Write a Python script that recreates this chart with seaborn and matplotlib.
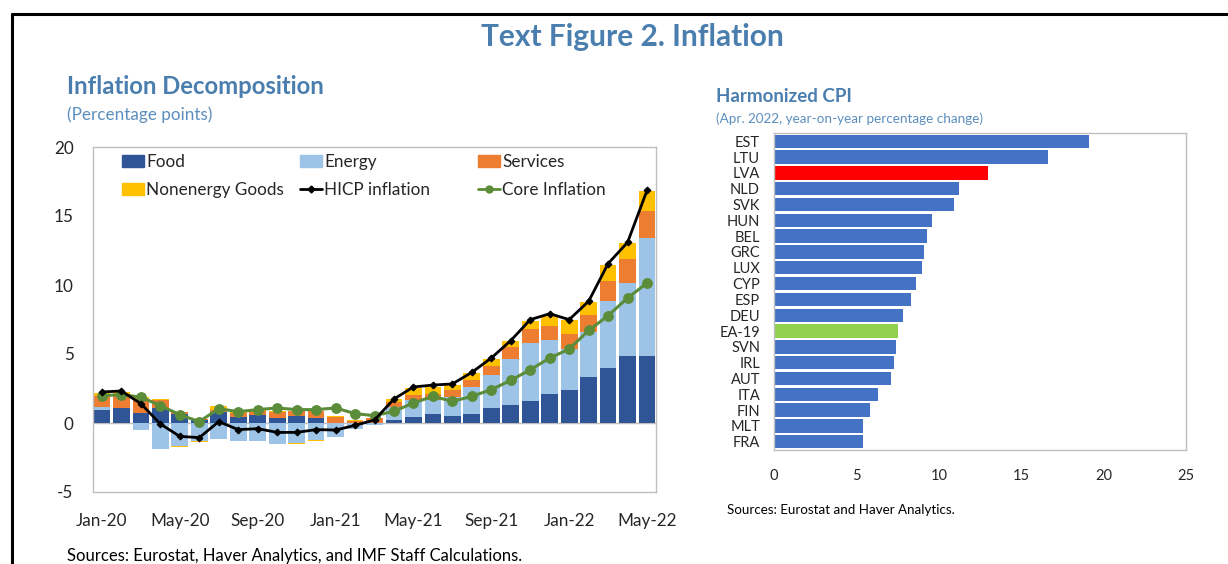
import numpy as np
import matplotlib
matplotlib.use('Agg')
import matplotlib.pyplot as plt
import seaborn as sns
from matplotlib.lines import Line2D
from matplotlib.patches import Patch

#%% Données

# décomposition de l'inflation, Jan-20 à May-22 (points de pourcentage)
tick_labels = ['Jan-20', 'May-20', 'Sep-20', 'Jan-21', 'May-21', 'Sep-21', 'Jan-22', 'May-22']
food = [0.92, 1.06, 0.72, 1.06, 0.68, 0.24, 0.77, 0.41, 0.56, 0.36, 0.48, 0.36, 0.00, 0.00, 0.00,
        0.19, 0.41, 0.68, 0.48, 0.68, 1.11, 1.28, 1.62, 2.10, 2.37, 3.33, 3.96, 4.83, 4.88]
energy = [0.24, 0.05, -0.48, -1.86, -1.69, -1.28, -1.16, -1.30, -1.33, -1.52, -1.45, -1.21, -1.00, -0.42, -0.15,
          1.00, 1.28, 0.97, 1.40, 1.93, 2.39, 3.38, 4.18, 3.89, 3.02, 3.24, 4.90, 5.31, 8.50]
services = [0.82, 0.87, 0.97, 0.58, 0.12, 0.05, 0.15, 0.31, 0.29, 0.43, 0.36, 0.48, 0.40, 0.15, 0.38,
            0.34, 0.36, 0.48, 0.48, 0.48, 0.60, 0.82, 1.04, 1.06, 1.06, 1.23, 1.45, 1.76, 1.96]
goods = [0.19, 0.24, 0.19, 0.10, -0.07, -0.07, 0.34, 0.12, 0.07, 0.07, -0.10, -0.12, 0.10, 0.10, 0.00,
         0.19, 0.48, 0.48, 0.41, 0.53, 0.56, 0.48, 0.58, 0.72, 0.99, 0.97, 1.16, 1.14, 1.45]
hicp = [2.25, 2.32, 1.40, -0.07, -0.97, -1.06, 0.10, -0.48, -0.41, -0.68, -0.68, -0.48, -0.51, -0.17, 0.22,
        1.74, 2.61, 2.75, 2.83, 3.67, 4.71, 5.97, 7.49, 7.92, 7.49, 8.82, 11.55, 13.09, 16.86]
core = [1.98, 2.05, 1.88, 1.26, 0.60, 0.10, 1.04, 0.82, 0.97, 1.09, 0.97, 0.97, 1.09, 0.68, 0.53,
        0.85, 1.45, 1.93, 1.57, 1.93, 2.42, 3.09, 3.86, 4.71, 5.36, 6.71, 7.78, 9.06, 10.14]

# HICP avril 2022
countries = ['EST', 'LTU', 'LVA', 'NLD', 'SVK', 'HUN', 'BEL', 'GRC', 'LUX', 'CYP',
             'ESP', 'DEU', 'EA-19', 'SVN', 'IRL', 'AUT', 'ITA', 'FIN', 'MLT', 'FRA']
hcpi_apr22 = [19.1, 16.6, 13.0, 11.2, 10.9, 9.6, 9.3, 9.1, 9.0, 8.6,
              8.3, 7.8, 7.5, 7.4, 7.3, 7.1, 6.3, 5.8, 5.4, 5.4]

#%% Style

sns.set_theme(style='white')
plt.rcParams['font.family'] = ['Lato', 'DejaVu Sans']
plt.rcParams['axes.unicode_minus'] = False

blue_title = '#4A7EAE'
c_food, c_energy, c_serv, c_goods = '#2F5597', '#9DC3E6', '#ED7D31', '#FFC000'
c_core = '#5B8C3A'
grey = '#BFBFBF'

W, H = 1228, 564
fig = plt.figure(figsize=(W / 100, H / 100), dpi=100)

def fx(x):
    return x / W

def fy(y):
    return 1 - y / H

#%% Graphique de gauche : décomposition

ax1 = fig.add_axes([fx(93), fy(492), fx(656) - fx(93), fy(147) - fy(492)])
x = np.arange(len(food))
pos_b = np.zeros(len(x))
neg_b = np.zeros(len(x))
for vals, col in [(food, c_food), (energy, c_energy), (services, c_serv), (goods, c_goods)]:
    v = np.array(vals)
    b = np.where(v >= 0, pos_b, neg_b)
    ax1.bar(x, v, 0.86, bottom=b, color=col, linewidth=0, zorder=2)
    pos_b += np.clip(v, 0, None)
    neg_b += np.clip(v, None, 0)

ax1.axhline(0, color=grey, lw=1, zorder=1)
sns.lineplot(x=x, y=core, ax=ax1, color=c_core, lw=2.2, marker='o', markersize=7,
             markeredgecolor=c_core, zorder=3)
sns.lineplot(x=x, y=hicp, ax=ax1, color='black', lw=2, marker='D', markersize=3.5,
             markeredgecolor='black', zorder=4)

ax1.set_xlim(-0.46, 28.46)
ax1.set_ylim(-5, 20)
ax1.set_yticks([-5, 0, 5, 10, 15, 20])
ax1.set_xticks(np.arange(0, 29, 4))
ax1.set_xticklabels(tick_labels)
ax1.tick_params(axis='y', direction='in', length=4, color=grey, labelsize=12.3, pad=14)
ax1.tick_params(axis='x', length=0, labelsize=12.3, pad=15)
for s in ax1.spines.values():
    s.set_color(grey)
    s.set_linewidth(1)

# légende en trois colonnes placées à la main
leg_cols = [
    ([Patch(color=c_food), Patch(color=c_goods)], ['Food', 'Nonenergy Goods'], 122),
    ([Patch(color=c_energy), Line2D([], [], color='black', lw=2, marker='D', markersize=3.5)],
     ['Energy', 'HICP inflation'], 300),
    ([Patch(color=c_serv), Line2D([], [], color=c_core, lw=2, marker='o', markersize=5)],
     ['Services', 'Core Inflation'], 478),
]
for hs, ls, x0 in leg_cols:
    leg = ax1.legend(hs, ls, loc='upper left', bbox_to_anchor=(fx(x0), fy(154)),
                     bbox_transform=fig.transFigure, frameon=False, fontsize=12.3,
                     borderpad=0, borderaxespad=0, handlelength=1.3, handletextpad=0.1,
                     labelspacing=0.68)
    ax1.add_artist(leg)
ax1.legend_ = None  # sinon la dernière légende est dessinée deux fois

#%% Graphique de droite : HICP par pays

ax2 = fig.add_axes([fx(774), fy(450), fx(1186) - fx(774), fy(133) - fy(450)])
bar_cols = ['#FF0000' if c == 'LVA' else '#92D050' if c == 'EA-19' else '#4472C4' for c in countries]
sns.barplot(x=hcpi_apr22, y=countries, hue=countries, palette=bar_cols, legend=False,
            orient='h', width=0.85, saturation=1, ax=ax2, linewidth=0)
ax2.set_xlim(0, 25)
ax2.set_ylim(19.52, -0.52)
ax2.set_xticks([0, 5, 10, 15, 20, 25])
ax2.tick_params(axis='x', direction='in', length=4, color=grey, labelsize=10.5, pad=14)
ax2.tick_params(axis='y', length=0, labelsize=10.5, pad=10)
ax2.set_xlabel('')
ax2.set_ylabel('')
for s in ax2.spines.values():
    s.set_color(grey)
    s.set_linewidth(1)

#%% Titres et sources

fig.text(fx(632), fy(37), 'Text Figure 2. Inflation', ha='center', va='center',
         fontsize=21.5, fontweight='bold', color=blue_title)
fig.text(fx(67), fy(87), 'Inflation Decomposition', ha='left', va='center',
         fontsize=17.2, fontweight='bold', color=blue_title)
fig.text(fx(67), fy(115), '(Percentage points)', ha='left', va='center',
         fontsize=12.3, color='#5B8EBE')
fig.text(fx(716), fy(96), 'Harmonized CPI', ha='left', va='center',
         fontsize=13.5, fontweight='bold', color=blue_title)
fig.text(fx(716), fy(119), '(Apr. 2022, year-on-year percentage change)', ha='left', va='center',
         fontsize=9.7, color='#5B8EBE')
fig.text(fx(67), fy(556), 'Sources: Eurostat, Haver Analytics, and IMF Staff Calculations.',
         ha='left', va='center', fontsize=12, color='black')
fig.text(fx(727), fy(510), 'Sources: Eurostat and Haver Analytics.', ha='left', va='center',
         fontsize=9.6, color='black')

# cadre noir
fig.add_artist(Line2D([fx(12), fx(12)], [0, fy(14)], color='black', lw=2.2, transform=fig.transFigure))
fig.add_artist(Line2D([fx(12), 1], [fy(14), fy(14)], color='black', lw=2.2, transform=fig.transFigure))

fig.savefig('out.png', dpi=100)
